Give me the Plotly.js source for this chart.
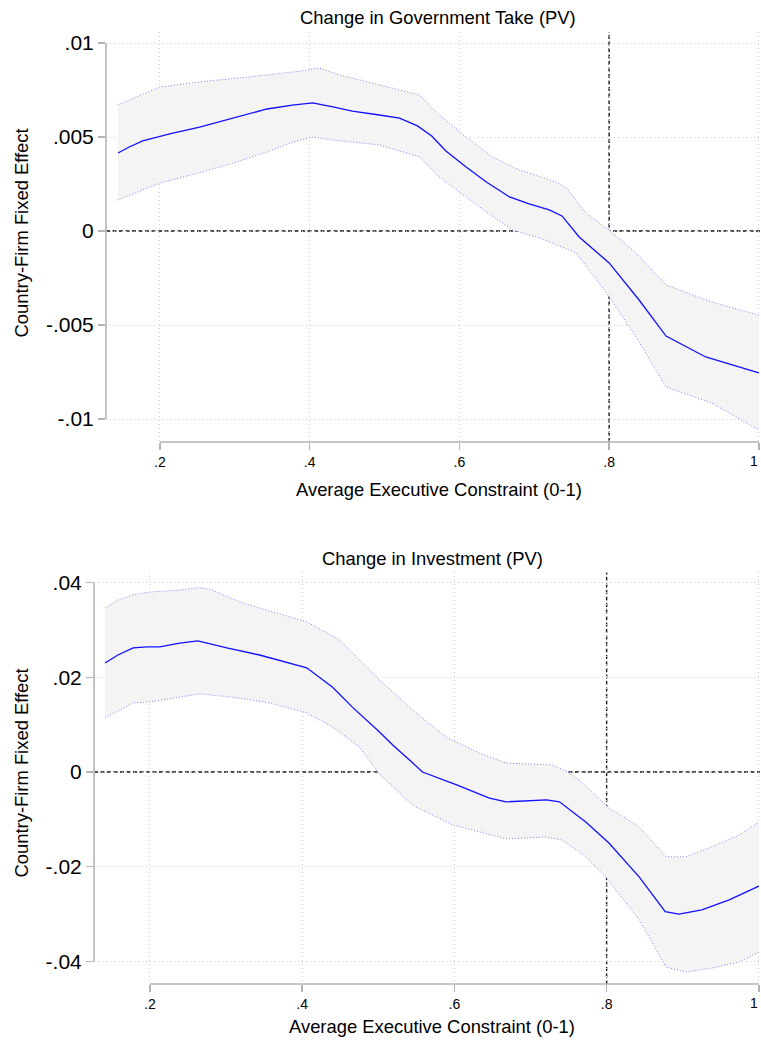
<!DOCTYPE html>
<html>
<head>
<meta charset="utf-8">
<script src="https://cdn.plot.ly/plotly-3.0.1.min.js"></script>
<style>html,body{margin:0;padding:0;background:#fff;}#chart{width:761px;height:1041px;}</style>
</head>
<body>
<div id="chart"></div>
<script>
// ---------- Panel 1: Change in Government Take (PV) ----------
const govTitle = "Change in Government Take (PV)";
const govMeanX = [0.144,0.159,0.177,0.196,0.213,0.253,0.297,0.343,0.377,0.404,0.431,0.457,0.493,0.520,0.544,0.563,0.582,0.609,0.636,0.667,0.693,0.720,0.737,0.760,0.800,0.840,0.876,0.929,1.000];
const govMeanY = [0.00415,0.00447,0.00479,0.00500,0.00516,0.00553,0.00600,0.00649,0.00670,0.00681,0.00660,0.00638,0.00617,0.00600,0.00559,0.00505,0.00426,0.00340,0.00261,0.00181,0.00144,0.00112,0.00080,-0.00032,-0.00170,-0.00367,-0.00559,-0.00670,-0.00755];
const govUpX = [0.144,0.159,0.200,0.253,0.320,0.387,0.413,0.440,0.493,0.547,0.573,0.609,0.644,0.680,0.729,0.743,0.769,0.800,0.836,0.876,0.937,1.000];
const govUpY = [0.00670,0.00697,0.00766,0.00793,0.00820,0.00850,0.00867,0.00830,0.00777,0.00723,0.00617,0.00500,0.00394,0.00325,0.00261,0.00229,0.00096,0.00005,-0.00117,-0.00287,-0.00378,-0.00447];
const govLoX = [0.144,0.200,0.253,0.297,0.343,0.377,0.404,0.431,0.493,0.547,0.573,0.600,0.636,0.671,0.707,0.737,0.756,0.800,0.836,0.876,0.937,1.000];
const govLoY = [0.00165,0.00255,0.00310,0.00360,0.00420,0.00473,0.00500,0.00484,0.00458,0.00394,0.00287,0.00207,0.00101,0.00005,-0.00037,-0.00085,-0.00117,-0.00350,-0.00564,-0.00830,-0.00915,-0.01059];
const govYTicks = [0.01,0.005,0,-0.005,-0.01];
const govYLabels = [".01",".005","0","-.005","-.01"];

// ---------- Panel 2: Change in Investment (PV) ----------
const invTitle = "Change in Investment (PV)";
const invMeanX = [0.141,0.158,0.178,0.196,0.213,0.239,0.263,0.301,0.344,0.406,0.440,0.466,0.502,0.519,0.544,0.558,0.603,0.646,0.668,0.721,0.738,0.773,0.803,0.843,0.877,0.895,0.925,0.961,1.000];
const invMeanY = [0.0230,0.0247,0.0262,0.0264,0.0264,0.0272,0.0277,0.0262,0.0247,0.0220,0.0179,0.0137,0.0084,0.0057,0.0021,0.0000,-0.0027,-0.0055,-0.0063,-0.0059,-0.0063,-0.0106,-0.0150,-0.0222,-0.0295,-0.0300,-0.0291,-0.0270,-0.0241];
const invUpX = [0.141,0.158,0.178,0.200,0.239,0.263,0.279,0.318,0.357,0.406,0.449,0.502,0.545,0.589,0.633,0.668,0.729,0.751,0.764,0.803,0.843,0.878,0.904,0.938,0.974,1.000];
const invUpY = [0.0346,0.0363,0.0374,0.0380,0.0384,0.0389,0.0386,0.0359,0.0340,0.0317,0.0279,0.0194,0.0131,0.0074,0.0040,0.0019,0.0015,-0.0002,-0.0017,-0.0076,-0.0116,-0.0179,-0.0179,-0.0158,-0.0133,-0.0106];
const invLoX = [0.141,0.178,0.200,0.266,0.318,0.357,0.406,0.440,0.475,0.502,0.545,0.598,0.668,0.721,0.742,0.773,0.799,0.843,0.878,0.904,0.938,0.974,1.000];
const invLoY = [0.0114,0.0146,0.0148,0.0165,0.0156,0.0146,0.0125,0.0095,0.0053,-0.0005,-0.0070,-0.0112,-0.0141,-0.0137,-0.0144,-0.0179,-0.0222,-0.0312,-0.0412,-0.0422,-0.0414,-0.0401,-0.0380];
const invYTicks = [0.04,0.02,0,-0.02,-0.04];
const invYLabels = [".04",".02","0","-.02","-.04"];

// ---------- shared ----------
const xTicks = [0.2,0.4,0.6,0.8,1];
const xLabels = [".2",".4",".6",".8","1"];
const xTitle = "Average Executive Constraint (0-1)";
const yTitle = "Country-Firm Fixed Effect";
const refX = 0.8;
const refY = 0;

const FONT = "Liberation Sans, Arial, Helvetica, sans-serif";
const W = 761, H = 1041;
const AXC = "#b3b3b3";

function bandTraces(upX, upY, loX, loY, mX, mY, xa, ya) {
  const polyX = upX.concat(loX.slice().reverse());
  const polyY = upY.concat(loY.slice().reverse());
  return [
    {x: polyX, y: polyY, xaxis: xa, yaxis: ya, type: 'scatter', mode: 'lines', fill: 'toself',
     fillcolor: '#f4f4f4', line: {width: 0, color: 'rgba(0,0,0,0)'}, hoverinfo: 'skip', showlegend: false},
    {x: upX, y: upY, xaxis: xa, yaxis: ya, type: 'scatter', mode: 'lines',
     line: {color: '#8080ff', width: 1, dash: '1px,2px'}, showlegend: false},
    {x: loX, y: loY, xaxis: xa, yaxis: ya, type: 'scatter', mode: 'lines',
     line: {color: '#8080ff', width: 1, dash: '1px,2px'}, showlegend: false},
    {x: mX, y: mY, xaxis: xa, yaxis: ya, type: 'scatter', mode: 'lines',
     line: {color: '#1010ff', width: 1.3}, showlegend: false}
  ];
}

const data = [].concat(
  bandTraces(govUpX, govUpY, govLoX, govLoY, govMeanX, govMeanY, 'x', 'y'),
  bandTraces(invUpX, invUpY, invLoX, invLoY, invMeanX, invMeanY, 'x2', 'y2')
);

// the last x label sits on the page edge; it is drawn as a right-aligned annotation instead
const xTickTextAxis = xLabels.map((t, i) => i === xLabels.length - 1 ? "" : t);

function xAxis(domainPx, range, anchor) {
  return {
    domain: [domainPx[0]/W, domainPx[1]/W], range: range, anchor: anchor,
    tickmode: 'array', tickvals: xTicks, ticktext: xTickTextAxis,
    ticks: 'outside', ticklen: 7, tickwidth: 1.3, tickcolor: AXC,
    showline: false, zeroline: false,
    showgrid: true, gridcolor: '#d0d0d0', griddash: '1px,3px', gridwidth: 1,
    tickfont: {family: FONT, size: 14, color: '#000'}, fixedrange: true
  };
}
function yAxis(domainPx, range, anchor, tv, tt) {
  return {
    domain: [1 - domainPx[1]/H, 1 - domainPx[0]/H], range: range, anchor: anchor,
    tickmode: 'array', tickvals: tv, ticktext: tt,
    ticks: 'outside', ticklen: 7, tickwidth: 1.3, tickcolor: AXC,
    showline: false, zeroline: false,
    showgrid: true, gridcolor: '#d0d0d0', griddash: '1px,3px', gridwidth: 1,
    tickfont: {family: FONT, size: 21, color: '#000'}, fixedrange: true
  };
}

function panelShapes(xa, ya, yt) {
  const ymin = Math.min.apply(null, yt), ymax = Math.max.apply(null, yt);
  const xmin = Math.min.apply(null, xTicks), xmax = Math.max.apply(null, xTicks);
  return [
    {type: 'line', xref: xa + ' domain', yref: ya, x0: 0, x1: 1, y0: refY, y1: refY,
     line: {color: '#1a1a1a', width: 1.4, dash: '4px,2.5px'}, layer: 'below'},
    {type: 'line', xref: xa, yref: ya + ' domain', x0: refX, x1: refX, y0: 0, y1: 1,
     line: {color: '#1a1a1a', width: 1.4, dash: '4px,2.5px'}, layer: 'below'},
    {type: 'line', xref: xa + ' domain', yref: ya, x0: 0, x1: 0, y0: ymin, y1: ymax,
     line: {color: AXC, width: 1.6}, layer: 'above'},
    {type: 'line', xref: xa, yref: ya + ' domain', x0: xmin, x1: xmax, y0: 0, y1: 0,
     line: {color: AXC, width: 1.6}, layer: 'above'}
  ];
}

function ann(text, xpx, ypx, size, angle, xanchor) {
  return {text: text, xref: 'paper', yref: 'paper', x: xpx/W, y: 1 - ypx/H,
          xanchor: xanchor || 'center', yanchor: 'middle', showarrow: false, textangle: angle || 0,
          font: {family: FONT, size: size, color: '#000'}};
}

const lastXLabel = xLabels[xLabels.length - 1];

const layout = {
  width: W, height: H,
  margin: {l: 0, r: 0, t: 0, b: 0},
  paper_bgcolor: '#fff', plot_bgcolor: '#fff',
  showlegend: false,
  xaxis: xAxis([106, 760], [0.128, 1.0015], 'y'),
  yaxis: yAxis([32, 442], [-0.011223, 0.010585], 'x', govYTicks, govYLabels),
  xaxis2: xAxis([94, 760], [0.12656, 1.0015], 'y2'),
  yaxis2: yAxis([572, 984], [-0.04475, 0.04222], 'x2', invYTicks, invYLabels),
  shapes: panelShapes('x', 'y', govYTicks).concat(panelShapes('x2', 'y2', invYTicks)),
  annotations: [
    ann(govTitle, 438, 18, 18.4),
    ann(xTitle, 438.5, 489, 18.4),
    ann(yTitle, 21, 233.5, 18.4, -90),
    ann(lastXLabel, 760, 461, 14, 0, 'right'),
    ann(invTitle, 432, 558, 18.4),
    ann(xTitle, 431.5, 1026, 18.4),
    ann(yTitle, 21, 773.5, 18.4, -90),
    ann(lastXLabel, 760, 1003, 14, 0, 'right')
  ]
};

Plotly.newPlot('chart', data, layout, {staticPlot: true, displayModeBar: false});
</script>
</body>
</html>
